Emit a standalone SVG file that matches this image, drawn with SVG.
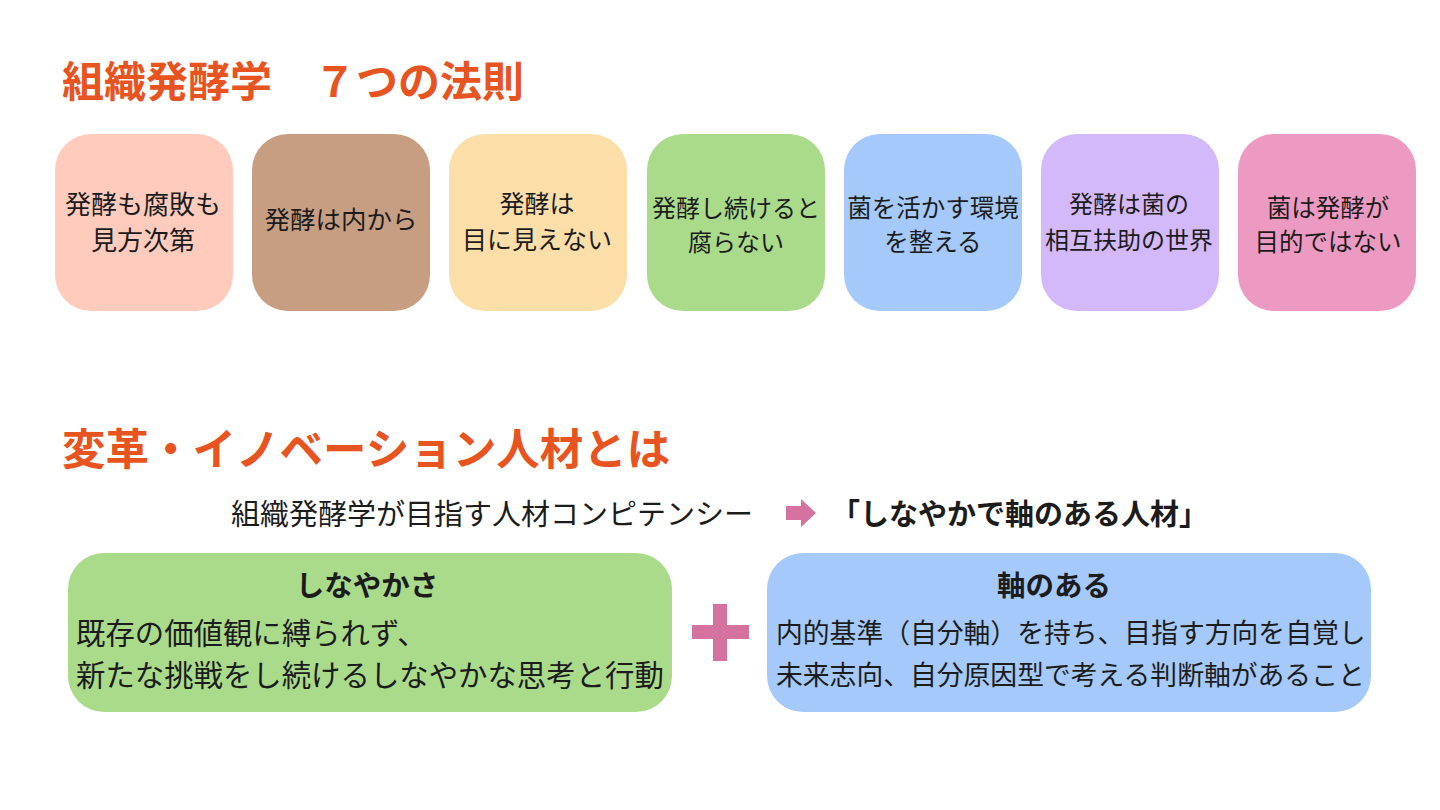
<svg xmlns="http://www.w3.org/2000/svg" width="1440" height="810" viewBox="0 0 1440 810">
  <style>
    text { font-family: "Noto Sans CJK JP", "Noto Sans", sans-serif; fill: #1c1c1c; }
    .title { font-size: 42px; font-weight: 700; fill: #E8541F; }
    .law { font-size: 24px; text-anchor: middle; }
    .sub { font-size: 29px; }
    .subb { font-size: 29px; font-weight: 700; }
    .head { font-size: 28.5px; font-weight: 700; text-anchor: middle; }
    .bodyg { font-size: 29.4px; }
    .bodyb { font-size: 26.8px; }
    .accent { fill: #D4739F; }
  </style>
  <rect width="1440" height="810" fill="#ffffff"/>

  <text class="title" x="62" y="97">組織発酵学　７つの法則</text>

  <g id="law1">
    <rect x="55" y="134" width="178" height="177" rx="36" fill="#FFCBBD"/>
    <text class="law" x="143" y="214" style="font-size:26px">発酵も腐敗も</text>
    <text class="law" x="143" y="250" style="font-size:26px">見方次第</text>
  </g>
  <g id="law2">
    <rect x="252" y="134" width="178" height="177" rx="36" fill="#C89E82"/>
    <text class="law" x="341" y="229" style="font-size:25.5px">発酵は内から</text>
  </g>
  <g id="law3">
    <rect x="449" y="134" width="178" height="177" rx="36" fill="#FCDEA9"/>
    <text class="law" x="537" y="213" style="font-size:25px">発酵は</text>
    <text class="law" x="537" y="249" style="font-size:25px">目に見えない</text>
  </g>
  <g id="law4">
    <rect x="647" y="134" width="178" height="177" rx="36" fill="#AADB8B"/>
    <text class="law" x="736" y="217">発酵し続けると</text>
    <text class="law" x="736" y="251">腐らない</text>
  </g>
  <g id="law5">
    <rect x="844" y="134" width="178" height="177" rx="36" fill="#A4C9FA"/>
    <text class="law" x="933" y="217" style="font-size:24.5px">菌を活かす環境</text>
    <text class="law" x="933" y="251" style="font-size:24.5px">を整える</text>
  </g>
  <g id="law6">
    <rect x="1041" y="134" width="178" height="177" rx="36" fill="#D3B9FA"/>
    <text class="law" x="1129" y="213">発酵は菌の</text>
    <text class="law" x="1129" y="249">相互扶助の世界</text>
  </g>
  <g id="law7">
    <rect x="1238" y="134" width="178" height="177" rx="36" fill="#ED9AC2"/>
    <text class="law" x="1328" y="217" style="font-size:24.5px">菌は発酵が</text>
    <text class="law" x="1328" y="251" style="font-size:24.5px">目的ではない</text>
  </g>

  <text class="title" x="62" y="465" style="font-size:43.5px">変革・イノベーション人材とは</text>

  <text class="sub" x="231" y="525">組織発酵学が目指す人材コンピテンシー</text>
  <g id="connectors">
    <polygon class="accent" points="786,506 801,506 801,499 816,513 801,527 801,520 786,520"/>
  </g>
  <text class="subb" x="831" y="525">「しなやかで軸のある人材」</text>

  <g id="flexibility">
    <rect x="68" y="553" width="604" height="159" rx="36" fill="#AADB8B"/>
    <text class="head" x="367" y="596">しなやかさ</text>
    <text class="bodyg" x="76" y="644">既存の価値観に縛られず、</text>
    <text class="bodyg" x="76" y="686">新たな挑戦をし続けるしなやかな思考と行動</text>
  </g>

  <g id="plus">
    <rect class="accent" x="692" y="625" width="57" height="14"/>
    <rect class="accent" x="713" y="604" width="14" height="57"/>
  </g>

  <g id="axis">
    <rect x="767" y="553" width="604" height="159" rx="36" fill="#A4C9FA"/>
    <text class="head" x="1054" y="596">軸のある</text>
    <text class="bodyb" x="776" y="643">内的基準（自分軸）を持ち、目指す方向を自覚し</text>
    <text class="bodyb" x="776" y="685">未来志向、自分原因型で考える判断軸があること</text>
  </g>
</svg>
